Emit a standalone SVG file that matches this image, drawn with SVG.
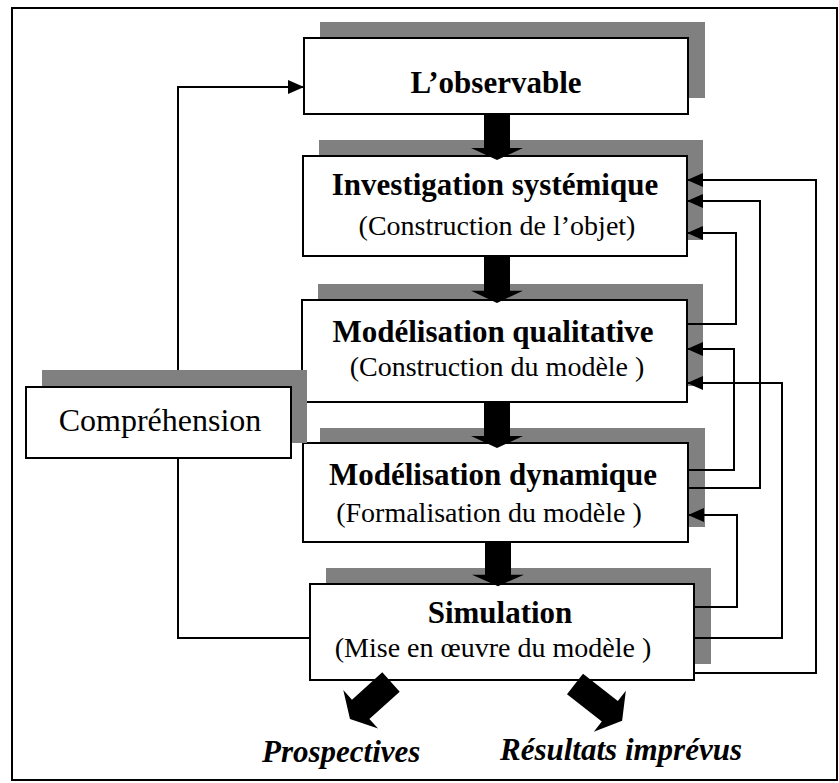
<svg xmlns="http://www.w3.org/2000/svg" width="839" height="783" viewBox="0 0 839 783">
  <style>
    .shadow { fill: #808080; }
    .box { fill: #ffffff; stroke: #000000; stroke-width: 2; }
    .title { font-family: "Liberation Serif", "Times New Roman", serif; font-weight: bold; font-size: 31px; text-anchor: middle; fill: #000; }
    .sub { font-family: "Liberation Serif", "Times New Roman", serif; font-size: 28px; text-anchor: middle; fill: #000; }
    .big { font-family: "Liberation Serif", "Times New Roman", serif; font-size: 32px; text-anchor: middle; fill: #000; }
    .out { font-family: "Liberation Serif", "Times New Roman", serif; font-weight: bold; font-style: italic; font-size: 31px; fill: #000; }
    .link { fill: none; stroke: #000000; stroke-width: 2; }
    .fat { fill: #000000; }
  </style>
  <defs>
    <marker id="head" viewBox="0 0 16 14" refX="16" refY="7" markerWidth="16" markerHeight="14" markerUnits="userSpaceOnUse" orient="auto">
      <path d="M0,0 L16,7 L0,14 Z" fill="#000000"/>
    </marker>
    <!-- thick block arrow pointing down, 46 long -->
    <path id="blockArrow" d="M-13,0 L13,0 L13,34 L26,34 L0,46 L-26,34 L-13,34 Z"/>
  </defs>

  <!-- outer frame -->
  <rect x="12" y="8" width="825" height="772" fill="#ffffff" stroke="#000000" stroke-width="2"/>

  <g id="observable">
    <rect class="shadow" x="320" y="22" width="385" height="76"/>
    <rect class="box" x="304" y="38" width="384" height="76"/>
    <text class="title" x="496" y="93">L’observable</text>
  </g>

  <g id="investigation">
    <rect class="shadow" x="319" y="140" width="384" height="100"/>
    <rect class="box" x="303" y="156" width="384" height="100"/>
    <text class="title" x="495" y="195">Investigation systémique</text>
    <text class="sub" x="497" y="235">(Construction de l’objet)</text>
  </g>

  <g id="qualitative">
    <rect class="shadow" x="318" y="284" width="385" height="102"/>
    <rect class="box" x="302" y="300" width="385" height="102"/>
    <text class="title" x="493" y="342">Modélisation qualitative</text>
    <text class="sub" x="497" y="376">(Construction du modèle )</text>
  </g>

  <g id="dynamique">
    <rect class="shadow" x="320" y="428" width="385" height="99"/>
    <rect class="box" x="303" y="443" width="385" height="99"/>
    <text class="title" x="493" y="485">Modélisation dynamique</text>
    <text class="sub" x="489" y="522">(Formalisation du modèle )</text>
  </g>

  <g id="simulation">
    <rect class="shadow" x="326" y="568" width="385" height="96"/>
    <rect class="box" x="310" y="584" width="384" height="96"/>
    <text class="title" x="500" y="623">Simulation</text>
    <text class="sub" x="493" y="657">(Mise en œuvre du modèle )</text>
  </g>

  <g id="comprehension">
    <rect class="shadow" x="42" y="370" width="265" height="73"/>
    <rect class="box" x="26" y="387" width="265" height="71"/>
    <text class="big" x="160" y="431">Compréhension</text>
  </g>

  <g id="prospectives">
    <text class="out" x="262" y="762">Prospectives</text>
  </g>

  <g id="resultats">
    <text class="out" x="500" y="760">Résultats imprévus</text>
  </g>

  <g id="connectors">
    <!-- main chain -->
    <use href="#blockArrow" class="fat" transform="translate(497,114)"/>
    <use href="#blockArrow" class="fat" transform="translate(497,256) scale(1,1.02)"/>
    <use href="#blockArrow" class="fat" transform="translate(497,402)"/>
    <use href="#blockArrow" class="fat" transform="translate(498,542) scale(1,0.96)"/>
    <!-- outputs of the simulation -->
    <use href="#blockArrow" class="fat" transform="translate(391,682) rotate(48) scale(1,1.2)"/>
    <use href="#blockArrow" class="fat" transform="translate(575,684) rotate(-52) scale(1,1.3)"/>

    <!-- understanding loop -->
    <path class="link" d="M310,638 H178 V458"/>
    <path class="link" d="M178,370 V87 H304" marker-end="url(#head)"/>

    <!-- feedback loops on the right -->
    <path class="link" d="M694,673 H816 V180 H687" marker-end="url(#head)"/>
    <path class="link" d="M694,638 H782 V383 H687" marker-end="url(#head)"/>
    <path class="link" d="M694,607 H737 V515 H688" marker-end="url(#head)"/>
    <path class="link" d="M688,488 H760 V201 H687" marker-end="url(#head)"/>
    <path class="link" d="M688,470 H734 V349 H687" marker-end="url(#head)"/>
    <path class="link" d="M687,324 H736 V233 H687" marker-end="url(#head)"/>
  </g>
</svg>
